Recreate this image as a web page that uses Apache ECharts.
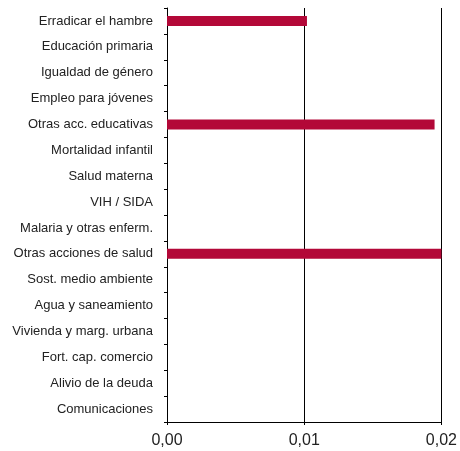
<!DOCTYPE html>
<html>
<head>
<meta charset="utf-8">
<script src="https://cdn.jsdelivr.net/npm/echarts@6/dist/echarts.min.js"></script>
<style>html,body{margin:0;padding:0;background:#fff}#c{width:460px;height:451px}</style>
</head>
<body>
<div id="c"></div>
<script>
var categories = ["Erradicar el hambre","Educación primaria","Igualdad de género","Empleo para jóvenes","Otras acc. educativas","Mortalidad infantil","Salud materna","VIH / SIDA","Malaria y otras enferm.","Otras acciones de salud","Sost. medio ambiente","Agua y saneamiento","Vivienda y marg. urbana","Fort. cap. comercio","Alivio de la deuda","Comunicaciones"];
var values = [0.0102,0,0,0,0.0195,0,0,0,0,0.0200,0,0,0,0,0,0];
var xTicks = [0, 0.01, 0.02];

var chart = echarts.init(document.getElementById('c'));
chart.setOption({
  animation: false,
  grid: {left: 167, right: 18, top: 8, bottom: 29, containLabel: false},
  xAxis: {
    type: 'value', min: xTicks[0], max: xTicks[2], interval: 0.01,
    axisLine: {show: true, lineStyle: {color: '#000', width: 1}},
    axisTick: {show: true, length: 3, lineStyle: {color: '#000'}},
    axisLabel: {margin: 11, color: '#222', fontSize: 16, fontFamily: 'Liberation Sans',
      formatter: function(v){ return v.toFixed(2).replace('.', ','); }},
    splitLine: {show: true, lineStyle: {color: '#000', width: 1}}
  },
  yAxis: {
    type: 'category', data: categories, inverse: true,
    axisLine: {show: true, lineStyle: {color: '#000', width: 1}},
    axisTick: {show: true, length: 3, lineStyle: {color: '#000'}},
    axisLabel: {margin: 14, color: '#222', fontSize: 13, fontFamily: 'Liberation Sans'},
    splitLine: {show: false}
  },
  series: [{
    type: 'bar', data: values, barWidth: 10,
    itemStyle: {color: '#b30838'}
  }]
});
</script>
</body>
</html>
